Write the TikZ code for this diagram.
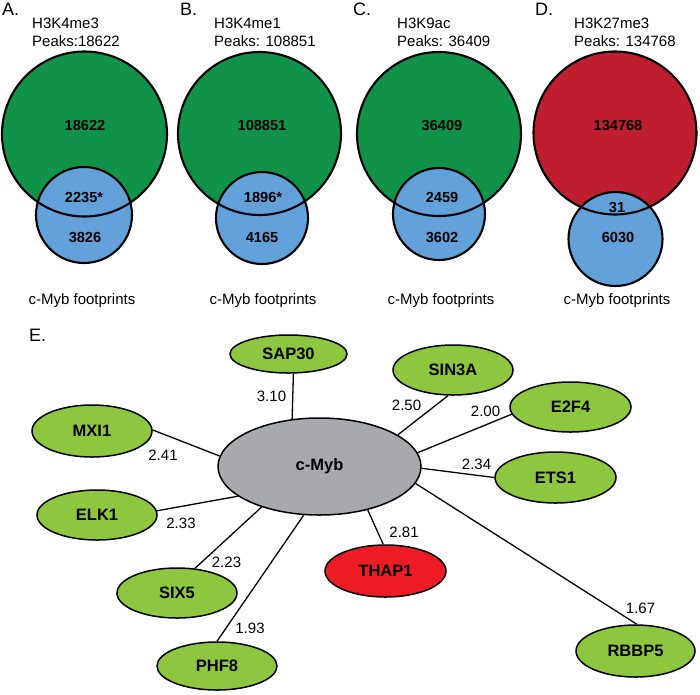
\documentclass[tikz,border=0pt]{standalone}
\usepackage{fontspec}
\setmainfont{Liberation Sans}
\usetikzlibrary{shapes.geometric}
\definecolor{vgreen}{RGB}{16,147,72}
\definecolor{vblue}{RGB}{98,161,218}
\definecolor{vred}{RGB}{190,30,45}
\definecolor{ngreen}{RGB}{141,198,63}
\definecolor{ngray}{RGB}{167,169,172}
\definecolor{nred}{RGB}{237,28,36}
\begin{document}
\begin{tikzpicture}[x=1pt,y=-1pt,
  vline/.style={draw=black,line width=2.1pt},
  vnum/.style={inner sep=0pt,font=\bfseries\fontsize{14.6}{17}\selectfont},
  ttl/.style={inner sep=0pt,anchor=base west,font=\fontsize{15}{18}\selectfont},
  foot/.style={inner sep=0pt,anchor=base,font=\fontsize{15}{18}\selectfont},
  plet/.style={inner sep=0pt,anchor=base west,font=\fontsize{18}{21}\selectfont},
  gn/.style={ellipse,draw=black,line width=1.5pt,fill=ngreen,inner sep=0pt,
    minimum width=120,minimum height=50,font=\bfseries\fontsize{16.5}{19}\selectfont},
  edge/.style={draw=black,line width=1.3pt},
  elab/.style={inner sep=0pt,font=\fontsize{15}{18}\selectfont}]
\useasboundingbox (0,0) rectangle (700,694);

% ---- Venn A
\fill[vgreen] (84.5,134) circle[radius=82.5];
\fill[vblue] (84,215) circle[radius=48];
\draw[vline] (84.5,134) circle[radius=82.5];
\draw[vline] (84,215) circle[radius=48];
% ---- Venn B
\fill[vgreen] (259.5,133.5) circle[radius=81.5];
\fill[vblue] (262,218) circle[radius=46];
\draw[vline] (259.5,133.5) circle[radius=81.5];
\draw[vline] (262,218) circle[radius=46];
% ---- Venn C
\fill[vgreen] (439,134) circle[radius=82];
\fill[vblue] (439,214) circle[radius=46];
\draw[vline] (439,134) circle[radius=82];
\draw[vline] (439,214) circle[radius=46];
% ---- Venn D
\fill[vred] (615,133) circle[radius=81.5];
\fill[vblue] (615.5,239) circle[radius=47];
\draw[vline] (615,133) circle[radius=81.5];
\draw[vline] (615.5,239) circle[radius=47];

% panel letters and titles
\node[plet] (pA) at (2,15) {A.};
\node[plet] (pB) at (180,15) {B.};
\node[plet] (pC) at (353,15) {C.};
\node[plet] (pD) at (535,15) {D.};
\node[plet] (pE) at (29,341) {E.};

\node[ttl] (tA1) at (32,28.3) {H3K4me3};
\node[ttl] (tA2) at (32,46) {Peaks:18622};
\node[ttl] (tB1) at (214,28.3) {H3K4me1};
\node[ttl] (tB2) at (214,46) {Peaks: 108851};
\node[ttl] (tC1) at (397,28.3) {H3K9ac};
\node[ttl] (tC2) at (397,46) {Peaks: 36409};
\node[ttl] (tD1) at (574,28.3) {H3K27me3};
\node[ttl] (tD2) at (574,46) {Peaks: 134768};

% venn numbers
\node[vnum] (nA1) at (85,125) {18622};
\node[vnum] (nA2) at (84,197) {2235*};
\node[vnum] (nA3) at (85,237.5) {3826};
\node[vnum] (nB1) at (262,125) {108851};
\node[vnum] (nB2) at (263,197) {1896*};
\node[vnum] (nB3) at (262,237.5) {4165};
\node[vnum] (nC1) at (442,125) {36409};
\node[vnum] (nC2) at (442,197) {2459};
\node[vnum] (nC3) at (442,237.5) {3602};
\node[vnum] (nD1) at (618,125) {134768};
\node[vnum] (nD2) at (617,207) {31};
\node[vnum] (nD3) at (618,237.5) {6030};

\node[foot] (fA) at (82,304) {c-Myb footprints};
\node[foot] (fB) at (263,304) {c-Myb footprints};
\node[foot] (fC) at (441,304) {c-Myb footprints};
\node[foot] (fD) at (617,304) {c-Myb footprints};

% ---- network
\node[gn,fill=ngray,minimum width=203,minimum height=97] (myb) at (319.5,466.5) {c-Myb};
\node[gn,minimum width=117,minimum height=38] (sap) at (288.5,354) {SAP30};
\node[gn,minimum height=52] (mxi) at (92,431) {MXI1};
\node[gn] (elk) at (97,515) {ELK1};
\node[gn] (six) at (177,593) {SIX5};
\node[gn,minimum height=48] (phf) at (217,666) {PHF8};
\node[gn,fill=nred,minimum width=121,minimum height=52] (thap) at (385.5,571) {THAP1};
\node[gn] (sin) at (453,370) {SIN3A};
\node[gn,minimum width=121] (e2f) at (570.5,407) {E2F4};
\node[gn,minimum width=121,minimum height=51] (ets) at (555.5,477.5) {ETS1};
\node[gn,minimum width=119,minimum height=52] (rb) at (635.5,651) {RBBP5};

\draw[edge] (sap.-76) -- (myb.120);
\draw[edge] (mxi.1) -- (myb.174);
\draw[edge] (elk.4) -- (myb.200);
\draw[edge] (six.54) -- (myb.215);
\draw[edge] (phf.90) -- (myb.252);
\draw[edge] (thap.95) -- (myb.-42);
\draw[edge] (sin.259) -- (myb.22);
\draw[edge] (e2f.187) -- (myb.8);
\draw[edge] (ets.180) -- (myb.-1);
\draw[edge] (rb.87) -- (myb.-10);

\node[elab] (l1) at (271.5,396) {3.10};
\node[elab] (l2) at (163,455) {2.41};
\node[elab] (l3) at (181,523) {2.33};
\node[elab] (l4) at (226.5,562) {2.23};
\node[elab] (l5) at (250,628) {1.93};
\node[elab] (l6) at (404,532) {2.81};
\node[elab] (l7) at (406.5,405) {2.50};
\node[elab] (l8) at (485.5,411) {2.00};
\node[elab] (l9) at (476.5,464) {2.34};
\node[elab] (l10) at (640.5,608) {1.67};
\end{tikzpicture}
\end{document}
